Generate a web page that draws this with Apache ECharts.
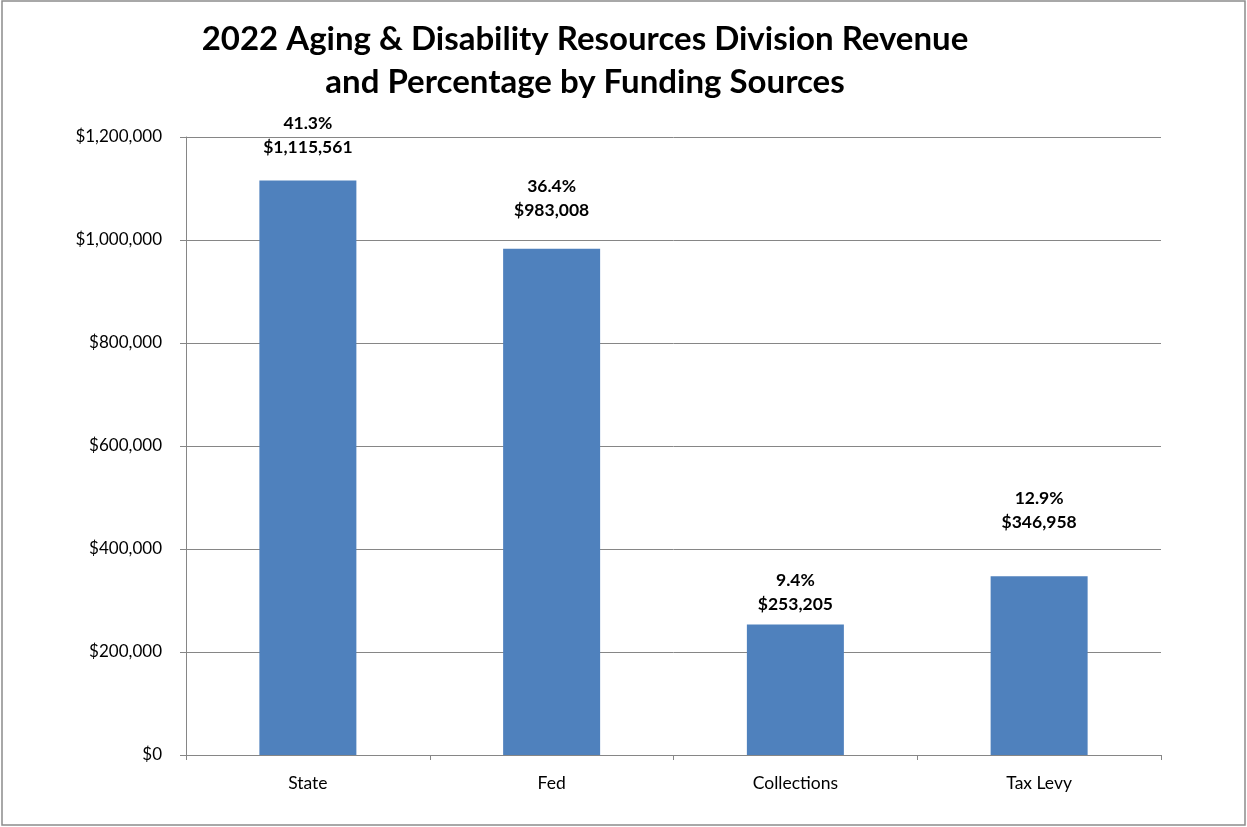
<!DOCTYPE html>
<html>
<head>
<meta charset="utf-8">
<script src="https://cdn.jsdelivr.net/npm/echarts@6/dist/echarts.min.js"></script>
<style>
  html, body { margin: 0; padding: 0; background: #fff; }
  #chart { width: 1247px; height: 827px; }
</style>
</head>
<body>
<div id="chart"></div>
<script>
// Funding sources and their 2022 revenue
const categories = ['State', 'Fed', 'Collections', 'Tax Levy'];
const revenue = [1115561, 983008, 253205, 346958];
const percentShare = ['41.3%', '36.4%', '9.4%', '12.9%'];
const titleLines = ['2022 Aging & Disability Resources Division Revenue', 'and Percentage by Funding Sources'];

// space between each bar top and its two-line label
const labelGap = [21, 26, 8, 42];

const money = v => '$' + Math.round(v).toLocaleString('en-US');

const chart = echarts.init(document.getElementById('chart'), null, { renderer: 'canvas' });

const FONT = 'Lato, "Open Sans", sans-serif';

chart.setOption({
  backgroundColor: '#ffffff',
  animation: false,
  title: {
    text: titleLines.join('\n'),
    left: 580,
    textAlign: 'center',
    top: 13,
    textStyle: {
      fontFamily: FONT,
      fontWeight: 'bold',
      fontSize: 33,
      lineHeight: 43,
      color: '#000000'
    }
  },
  graphic: [{
    type: 'rect',
    shape: { x: 2, y: 1, width: 1243, height: 824 },
    style: { fill: 'none', stroke: '#8c8c8c', lineWidth: 1.5 },
    silent: true
  }],
  grid: { left: 186, right: 86, top: 137, bottom: 72, containLabel: false },
  xAxis: {
    type: 'category',
    data: categories,
    axisLine: { show: true, lineStyle: { color: '#868686', width: 1 } },
    axisTick: { show: true, alignWithLabel: false, length: 5, lineStyle: { color: '#868686' } },
    axisLabel: { margin: 19, color: '#000000', fontFamily: FONT, fontSize: 17.5 },
    splitLine: { show: false }
  },
  yAxis: {
    type: 'value',
    min: 0,
    max: 1200000,
    interval: 200000,
    axisLine: { show: true, lineStyle: { color: '#868686', width: 1 } },
    axisTick: { show: true, length: 6, lineStyle: { color: '#868686' } },
    axisLabel: {
      margin: 24,
      color: '#000000',
      fontFamily: FONT,
      fontSize: 17,
      formatter: v => money(v)
    },
    splitLine: { show: true, lineStyle: { color: '#868686', width: 1 } }
  },
  series: [{
    type: 'bar',
    barWidth: 97,
    itemStyle: { color: '#4F81BD' },
    data: revenue.map((v, i) => ({
      value: v,
      label: { distance: labelGap[i] }
    })),
    label: {
      show: true,
      position: 'top',
      formatter: p => '{p|' + percentShare[p.dataIndex] + '}\n{v|' + money(p.value) + '}',
      rich: {
        p: { fontFamily: FONT, fontWeight: 'bold', fontSize: 17.5, lineHeight: 24, color: '#000000', align: 'center' },
        v: { fontFamily: FONT, fontWeight: 'bold', fontSize: 17.5, lineHeight: 24, color: '#000000', align: 'center' }
      }
    }
  }]
});
</script>
</body>
</html>
